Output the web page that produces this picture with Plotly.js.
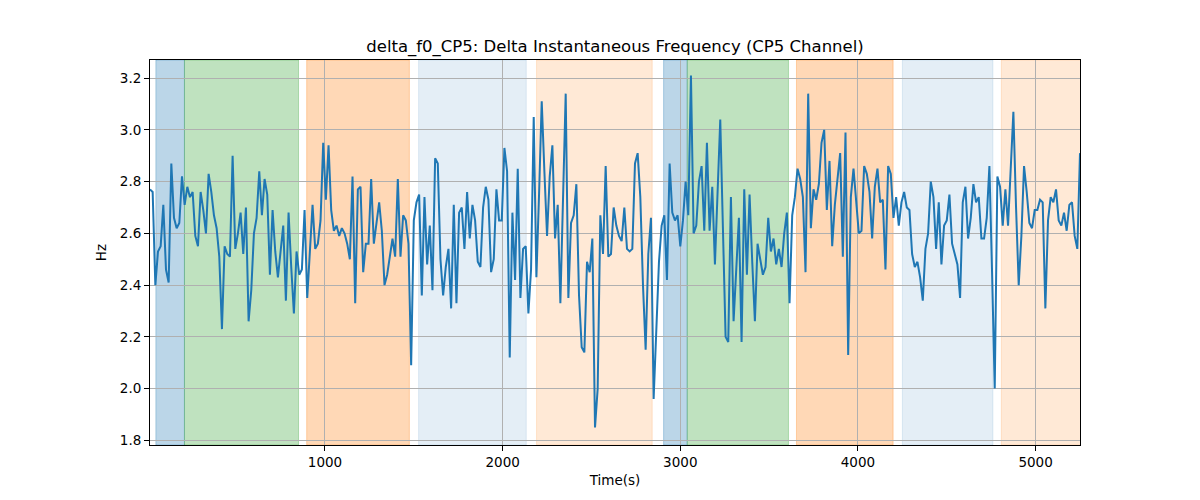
<!DOCTYPE html>
<html>
<head>
<meta charset="utf-8">
<script src="https://cdn.plot.ly/plotly-3.0.1.min.js"></script>
<style>
  html, body { margin: 0; padding: 0; background: #fff; }
  #chart { width: 1200px; height: 500px; }
</style>
</head>
<body>
<div id="chart"></div>
<script>
//------------------------------- data ---------------------------------//
// sample times (s)
var time = [
  15, 30, 45, 60, 75, 90, 105, 120, 135, 150,
  165, 180, 195, 210, 225, 240, 255, 270, 285, 300,
  315, 330, 345, 360, 375, 390, 405, 420, 435, 450,
  465, 480, 495, 510, 525, 540, 555, 570, 585, 600,
  615, 630, 645, 660, 675, 690, 705, 720, 735, 750,
  765, 780, 795, 810, 825, 840, 855, 870, 885, 900,
  915, 930, 945, 960, 975, 990, 1005, 1020, 1035, 1050,
  1065, 1080, 1095, 1110, 1125, 1140, 1155, 1170, 1185, 1200,
  1215, 1230, 1245, 1260, 1275, 1290, 1305, 1320, 1335, 1350,
  1365, 1380, 1395, 1410, 1425, 1440, 1455, 1470, 1485, 1500,
  1515, 1530, 1545, 1560, 1575, 1590, 1605, 1620, 1635, 1650,
  1665, 1680, 1695, 1710, 1725, 1740, 1755, 1770, 1785, 1800,
  1815, 1830, 1845, 1860, 1875, 1890, 1905, 1920, 1935, 1950,
  1965, 1980, 1995, 2010, 2025, 2040, 2055, 2070, 2085, 2100,
  2115, 2130, 2145, 2160, 2175, 2190, 2205, 2220, 2235, 2250,
  2265, 2280, 2295, 2310, 2325, 2340, 2355, 2370, 2385, 2400,
  2415, 2430, 2445, 2460, 2475, 2490, 2505, 2520, 2535, 2550,
  2565, 2580, 2595, 2610, 2625, 2640, 2655, 2670, 2685, 2700,
  2715, 2730, 2745, 2760, 2775, 2790, 2805, 2820, 2835, 2850,
  2865, 2880, 2895, 2910, 2925, 2940, 2955, 2970, 2985, 3000,
  3015, 3030, 3045, 3060, 3075, 3090, 3105, 3120, 3135, 3150,
  3165, 3180, 3195, 3210, 3225, 3240, 3255, 3270, 3285, 3300,
  3315, 3330, 3345, 3360, 3375, 3390, 3405, 3420, 3435, 3450,
  3465, 3480, 3495, 3510, 3525, 3540, 3555, 3570, 3585, 3600,
  3615, 3630, 3645, 3660, 3675, 3690, 3705, 3720, 3735, 3750,
  3765, 3780, 3795, 3810, 3825, 3840, 3855, 3870, 3885, 3900,
  3915, 3930, 3945, 3960, 3975, 3990, 4005, 4020, 4035, 4050,
  4065, 4080, 4095, 4110, 4125, 4140, 4155, 4170, 4185, 4200,
  4215, 4230, 4245, 4260, 4275, 4290, 4305, 4320, 4335, 4350,
  4365, 4380, 4395, 4410, 4425, 4440, 4455, 4470, 4485, 4500,
  4515, 4530, 4545, 4560, 4575, 4590, 4605, 4620, 4635, 4650,
  4665, 4680, 4695, 4710, 4725, 4740, 4755, 4770, 4785, 4800,
  4815, 4830, 4845, 4860, 4875, 4890, 4905, 4920, 4935, 4950,
  4965, 4980, 4995, 5010, 5025, 5040, 5055, 5070, 5085, 5100,
  5115, 5130, 5145, 5160, 5175, 5190, 5205, 5220, 5235, 5250
];

// delta f0 (Hz)
var delta_f0 = [
  2.77, 2.76, 2.40, 2.53, 2.55, 2.71, 2.46, 2.41, 2.87, 2.66,
  2.62, 2.64, 2.82, 2.71, 2.78, 2.74, 2.76, 2.59, 2.55, 2.76,
  2.69, 2.60, 2.83, 2.76, 2.67, 2.62, 2.51, 2.23, 2.55, 2.52,
  2.51, 2.90, 2.54, 2.60, 2.68, 2.52, 2.70, 2.26, 2.38, 2.60,
  2.66, 2.84, 2.67, 2.81, 2.75, 2.44, 2.69, 2.53, 2.43, 2.54,
  2.63, 2.34, 2.68, 2.47, 2.29, 2.53, 2.44, 2.46, 2.69, 2.35,
  2.53, 2.71, 2.54, 2.56, 2.65, 2.95, 2.73, 2.94, 2.69, 2.61,
  2.63, 2.59, 2.62, 2.60, 2.56, 2.50, 2.82, 2.33, 2.77, 2.78,
  2.45, 2.56, 2.56, 2.81, 2.56, 2.63, 2.72, 2.61, 2.40, 2.44,
  2.52, 2.58, 2.51, 2.81, 2.51, 2.67, 2.65, 2.56, 2.09, 2.65,
  2.72, 2.75, 2.36, 2.74, 2.48, 2.63, 2.38, 2.89, 2.87, 2.50,
  2.36, 2.47, 2.54, 2.31, 2.71, 2.33, 2.68, 2.70, 2.54, 2.76,
  2.58, 2.71, 2.65, 2.49, 2.47, 2.70, 2.78, 2.73, 2.45, 2.50,
  2.77, 2.65, 2.65, 2.93, 2.84, 2.12, 2.68, 2.42, 2.85, 2.35,
  2.54, 2.55, 2.29, 2.46, 3.05, 2.43, 2.75, 3.11, 2.84, 2.59,
  2.82, 2.94, 2.58, 2.71, 2.33, 2.79, 3.14, 2.35, 2.64, 2.67,
  2.79, 2.36, 2.16, 2.14, 2.49, 2.45, 2.58, 1.85, 2.00, 2.67,
  2.52, 2.86, 2.51, 2.52, 2.70, 2.63, 2.59, 2.57, 2.70, 2.54,
  2.53, 2.54, 2.87, 2.91, 2.74, 2.40, 2.15, 2.52, 2.66, 1.96,
  2.21, 2.49, 2.63, 2.67, 2.42, 2.87, 2.68, 2.65, 2.67, 2.55,
  2.65, 2.80, 2.67, 3.21, 2.60, 2.63, 2.80, 2.86, 2.61, 2.95,
  2.61, 2.78, 2.48, 2.75, 3.04, 2.62, 2.20, 2.18, 2.74, 2.26,
  2.47, 2.66, 2.18, 2.77, 2.44, 2.75, 2.49, 2.26, 2.56, 2.50,
  2.44, 2.47, 2.66, 2.53, 2.58, 2.48, 2.54, 2.47, 2.60, 2.68,
  2.33, 2.67, 2.74, 2.85, 2.81, 2.74, 2.45, 3.14, 2.62, 2.77,
  2.73, 2.79, 2.95, 3.00, 2.69, 2.88, 2.55, 2.71, 2.82, 2.91,
  2.51, 2.99, 2.13, 2.74, 2.85, 2.74, 2.60, 2.61, 2.86, 2.83,
  2.76, 2.58, 2.78, 2.85, 2.72, 2.73, 2.46, 2.86, 2.83, 2.66,
  2.74, 2.63, 2.72, 2.76, 2.70, 2.69, 2.52, 2.47, 2.49, 2.43,
  2.34, 2.54, 2.60, 2.80, 2.74, 2.54, 2.72, 2.48, 2.63, 2.65,
  2.75, 2.56, 2.52, 2.48, 2.35, 2.72, 2.78, 2.58, 2.66, 2.79,
  2.72, 2.74, 2.58, 2.58, 2.66, 2.86, 2.45, 2.00, 2.82, 2.78,
  2.63, 2.77, 2.63, 2.87, 3.07, 2.70, 2.40, 2.59, 2.86, 2.76,
  2.64, 2.62, 2.69, 2.69, 2.73, 2.72, 2.31, 2.65, 2.74, 2.72,
  2.77, 2.65, 2.63, 2.68, 2.61, 2.71, 2.72, 2.59, 2.54, 2.91
];

// shaded segments
var span_start = [48, 209, 897, 1527, 2191, 2906, 3039, 3654, 4250, 4807];
var span_end   = [209, 851, 1475, 2133, 2842, 3039, 3609, 4198, 4760, 5260];
var span_color = ['rgba(31,119,180,0.3)', 'rgba(44,160,44,0.3)', 'rgba(255,127,14,0.3)',
                  'rgba(31,119,180,0.12)', 'rgba(255,127,14,0.17)',
                  'rgba(31,119,180,0.3)', 'rgba(44,160,44,0.3)', 'rgba(255,127,14,0.3)',
                  'rgba(31,119,180,0.12)', 'rgba(255,127,14,0.17)'];

var y_ticks = [1.8, 2.0, 2.2, 2.4, 2.6, 2.8, 3.0, 3.2];
var x_ticks = [1000, 2000, 3000, 4000, 5000];

//------------------------------- chart --------------------------------//
var shapes = span_start.map(function (s, i) {
  return {
    type: 'rect', xref: 'x', yref: 'paper',
    x0: s, x1: span_end[i], y0: 0, y1: 1,
    fillcolor: span_color[i],
    line: {color: span_color[i], width: 1},
    layer: 'below'
  };
});

var trace1 = {
  x: time,
  y: delta_f0,
  type: 'scatter',
  mode: 'lines',
  line: {color: '#1f77b4', width: 2},
  hoverinfo: 'x+y'
};

var font = {family: 'DejaVu Sans, sans-serif', size: 13.5, color: '#000'};

var layout = {
  width: 1200, height: 500,
  margin: {l: 150, r: 120, t: 60, b: 55},
  paper_bgcolor: '#fff',
  plot_bgcolor: '#fff',
  font: font,
  showlegend: false,
  title: {
    text: 'delta_f0_CP5: Delta Instantaneous Frequency (CP5 Channel)',
    font: {family: 'DejaVu Sans, sans-serif', size: 16.5, color: '#000'},
    x: 0.5125, xanchor: 'center', xref: 'container',
    y: 0.908, yanchor: 'middle', yref: 'container'
  },
  xaxis: {
    title: {text: 'Time(s)', font: font, standoff: 6},
    range: [time[0], time[time.length - 1]],
    tickvals: x_ticks,
    ticks: 'outside', ticklen: 5, tickcolor: '#000', tickwidth: 1,
    showline: true, mirror: true, linecolor: '#000', linewidth: 1,
    showgrid: true, gridcolor: '#b0b0b0', gridwidth: 1,
    zeroline: false, automargin: false
  },
  yaxis: {
    title: {text: 'Hz', font: font, standoff: 10},
    range: [1.782, 3.27],
    tickvals: y_ticks,
    tickformat: '.1f',
    ticks: 'outside', ticklen: 5, tickcolor: '#000', tickwidth: 1,
    showline: true, mirror: true, linecolor: '#000', linewidth: 1,
    showgrid: true, gridcolor: '#b0b0b0', gridwidth: 1,
    zeroline: false, automargin: false
  },
  shapes: shapes
};

var config = {responsive: false, displayModeBar: false, staticPlot: true};
Plotly.newPlot('chart', [trace1], layout, config);
</script>
</body>
</html>
